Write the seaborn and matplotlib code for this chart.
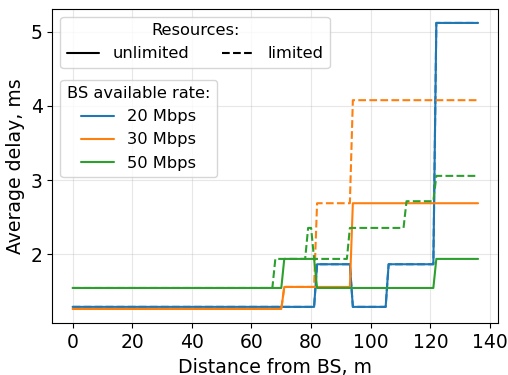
import numpy as np
import pandas as pd
import matplotlib
matplotlib.use("Agg")
import matplotlib.pyplot as plt
from matplotlib.lines import Line2D
import seaborn as sns

# ---- data ----
distance_max = 136          # last sampled distance, m (1 m sampling)
rates = ["20 Mbps", "30 Mbps", "50 Mbps"]
resources = ["unlimited", "limited"]

# step functions: first distance of each level, and the level (ms)
r20_unlim_start = [0, 82, 94, 106, 122]
r20_unlim_delay = [1.29, 1.865, 1.29, 1.865, 5.12]
r20_lim_start = [0, 82, 94, 106, 122]
r20_lim_delay = [1.29, 1.865, 1.29, 1.865, 5.12]

r30_unlim_start = [0, 71, 94]
r30_unlim_delay = [1.262, 1.559, 2.688]
r30_lim_start = [0, 71, 82, 94]
r30_lim_delay = [1.262, 1.559, 2.688, 4.078]

r50_unlim_start = [0, 71, 82, 122]
r50_unlim_delay = [1.545, 1.937, 1.545, 1.937]
r50_lim_start = [0, 68, 79, 81, 93, 112, 122]
r50_lim_delay = [1.545, 1.937, 2.355, 1.937, 2.355, 2.715, 3.057]

xticks = [0, 20, 40, 60, 80, 100, 120, 140]
yticks = [2, 3, 4, 5]

series = {
    ("20 Mbps", "unlimited"): (r20_unlim_start, r20_unlim_delay),
    ("20 Mbps", "limited"): (r20_lim_start, r20_lim_delay),
    ("30 Mbps", "unlimited"): (r30_unlim_start, r30_unlim_delay),
    ("30 Mbps", "limited"): (r30_lim_start, r30_lim_delay),
    ("50 Mbps", "unlimited"): (r50_unlim_start, r50_unlim_delay),
    ("50 Mbps", "limited"): (r50_lim_start, r50_lim_delay),
}

x_grid = np.arange(0, distance_max + 1)
frames = []
for (rate, res), (starts, levels) in series.items():
    counts = np.diff(list(starts) + [distance_max + 1])
    frames.append(pd.DataFrame({
        "distance": x_grid,
        "delay": np.repeat(levels, counts),
        "rate": rate,
        "resources": res,
    }))
df = pd.concat(frames, ignore_index=True)

# ---- style ----
sns.set_theme(style="ticks")
plt.rcParams["font.family"] = ["DejaVu Sans"]
plt.rcParams["text.color"] = "black"
plt.rcParams["axes.labelcolor"] = "black"
colors = sns.color_palette("tab10", 3)
palette = dict(zip(rates, colors))

fig = plt.figure(figsize=(5.08, 3.75), dpi=100)
ax = fig.add_axes([0.103, 0.138, 0.878, 0.839])

sns.lineplot(data=df, x="distance", y="delay", hue="rate", style="resources",
             hue_order=rates, style_order=resources, palette=palette,
             dashes={"unlimited": "", "limited": (3.7, 1.6)},
             estimator=None, sort=False, linewidth=1.5, legend=False, ax=ax)

ax.set_xticks(xticks)
ax.set_yticks(yticks)
ax.tick_params(labelsize=13.5, colors="black", length=3.5, width=0.8)
for s in ax.spines.values():
    s.set_color("black")
    s.set_linewidth(0.8)
ax.grid(True, color="#b0b0b0", alpha=0.3, linewidth=0.8)
ax.set_xlabel("Distance from BS, m", fontsize=13.6, color="black")
ax.set_ylabel("Average delay, ms", fontsize=13.6, color="black")

leg_fs = 11.7
h1 = [Line2D([], [], color="black", linestyle="-", linewidth=1.5),
      Line2D([], [], color="black", linestyle="--", linewidth=1.5)]
leg1 = ax.legend(h1, resources, title="Resources:", ncol=2, loc="upper left",
                 fontsize=leg_fs, title_fontsize=leg_fs, framealpha=0.8,
                 edgecolor="#cccccc", fancybox=True)
ax.add_artist(leg1)
h2 = [Line2D([], [], color=palette[r], linewidth=1.5) for r in rates]
ax.legend(h2, rates, title="BS available rate:", loc="upper left",
          bbox_to_anchor=(0, 0.80), fontsize=leg_fs, title_fontsize=leg_fs,
          framealpha=0.8, edgecolor="#cccccc", fancybox=True)

fig.savefig("out.png", dpi=100)
